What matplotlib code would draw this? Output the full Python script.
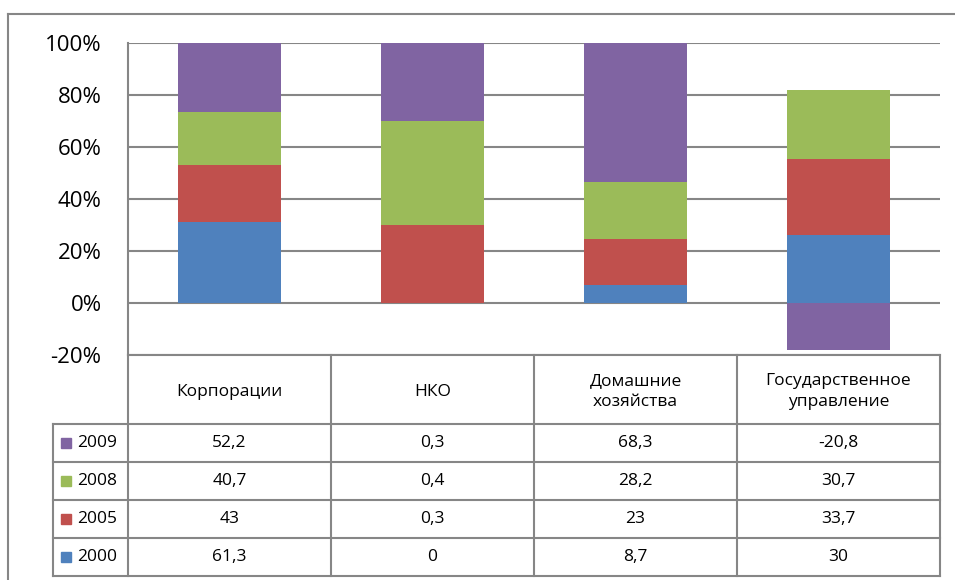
import numpy as np
import matplotlib
matplotlib.use("Agg")
import matplotlib.pyplot as plt
from matplotlib.patches import Rectangle

plt.rcParams['font.family'] = ['Open Sans', 'Noto Sans', 'DejaVu Sans']

# Sectors and yearly values
categories = ["Корпорации", "НКО", "Домашние\nхозяйства", "Государственное\nуправление"]
years = ["2000", "2005", "2008", "2009"]
v2000 = [61.3, 0.0, 8.7, 30.0]
v2005 = [43.0, 0.3, 23.0, 33.7]
v2008 = [40.7, 0.4, 28.2, 30.7]
v2009 = [52.2, 0.3, 68.3, -20.8]
labels2000 = ["61,3", "0", "8,7", "30"]
labels2005 = ["43", "0,3", "23", "33,7"]
labels2008 = ["40,7", "0,4", "28,2", "30,7"]
labels2009 = ["52,2", "0,3", "68,3", "-20,8"]
colors = ["#4F81BD", "#C0504D", "#9BBB59", "#8064A2"]
yticks = [-0.2, 0.0, 0.2, 0.4, 0.6, 0.8, 1.0]
ytick_labels = ["-20%", "0%", "20%", "40%", "60%", "80%", "100%"]

W, H = 955, 580
fig = plt.figure(figsize=(W / 100, H / 100), dpi=100)

def fx(px):
    return px / W

def fy(py):
    return 1 - py / H

# Plot area
left, right, top, bottom = 128, 940, 43, 355
ax = fig.add_axes([fx(left), fy(bottom), fx(right) - fx(left), fy(top) - fy(bottom)])

series = np.array([v2000, v2005, v2008, v2009])
abs_total = np.abs(series).sum(axis=0)
shares = series / abs_total

x = np.arange(len(categories))
pos_base = np.zeros(len(categories))
neg_base = np.zeros(len(categories))
for i in range(len(years)):
    s = shares[i]
    base = np.where(s >= 0, pos_base, neg_base)
    ax.bar(x, s, bottom=base, width=0.51, color=colors[i], zorder=3, linewidth=0)
    pos_base = pos_base + np.where(s >= 0, s, 0)
    neg_base = neg_base + np.where(s < 0, s, 0)

ax.set_xlim(-0.5, len(categories) - 0.5)
ax.set_ylim(-0.2, 1.0)
ax.set_yticks(yticks)
ax.set_yticklabels(ytick_labels, fontsize=16)
ax.tick_params(axis='y', length=0, pad=19)
ax.set_xticks([])
ax.grid(axis='y', color='#868686', linewidth=1.5, zorder=0)
for side in ['top', 'right', 'bottom']:
    ax.spines[side].set_visible(False)
ax.spines['left'].set_color('#868686')
ax.spines['left'].set_linewidth(1.5)

# Overlay in pixel coordinates for the frame and the data table
ov = fig.add_axes([0, 0, 1, 1], facecolor='none')
ov.set_xlim(0, W)
ov.set_ylim(H, 0)
ov.axis('off')

lc = '#868686'
lw = 1.5
# outer frame
ov.plot([8, 8], [14, H], color=lc, lw=lw)
ov.plot([8, W], [14, 14], color=lc, lw=lw)

cols = [128, 331, 534, 737, 940]
head_top, head_bot = 355, 424
rows = [424, 462, 500, 538, 576]
leg_left = 53

# header cells
ov.plot([cols[0], cols[-1]], [head_top, head_top], color=lc, lw=lw)
for c in cols:
    ov.plot([c, c], [head_top, rows[-1]], color=lc, lw=lw)
for r in rows:
    ov.plot([leg_left, cols[-1]], [r, r], color=lc, lw=lw)
ov.plot([leg_left, leg_left], [rows[0], rows[-1]], color=lc, lw=lw)

tfs = 12.5
for j, cat in enumerate(categories):
    cx = (cols[j] + cols[j + 1]) / 2
    ov.text(cx, (head_top + head_bot) / 2 + 2, cat, ha='center', va='center',
            fontsize=tfs, linespacing=1.45)

table_rows = [("2009", labels2009, colors[3]), ("2008", labels2008, colors[2]),
              ("2005", labels2005, colors[1]), ("2000", labels2000, colors[0])]
for k, (yr, labs, col) in enumerate(table_rows):
    cy = (rows[k] + rows[k + 1]) / 2
    ov.add_patch(Rectangle((61, cy - 5), 10, 10, color=col))
    ov.text(77, cy, yr, ha='left', va='center', fontsize=tfs)
    for j, lab in enumerate(labs):
        cx = (cols[j] + cols[j + 1]) / 2
        ov.text(cx, cy, lab, ha='center', va='center', fontsize=tfs)

fig.savefig("out.png", dpi=100)
